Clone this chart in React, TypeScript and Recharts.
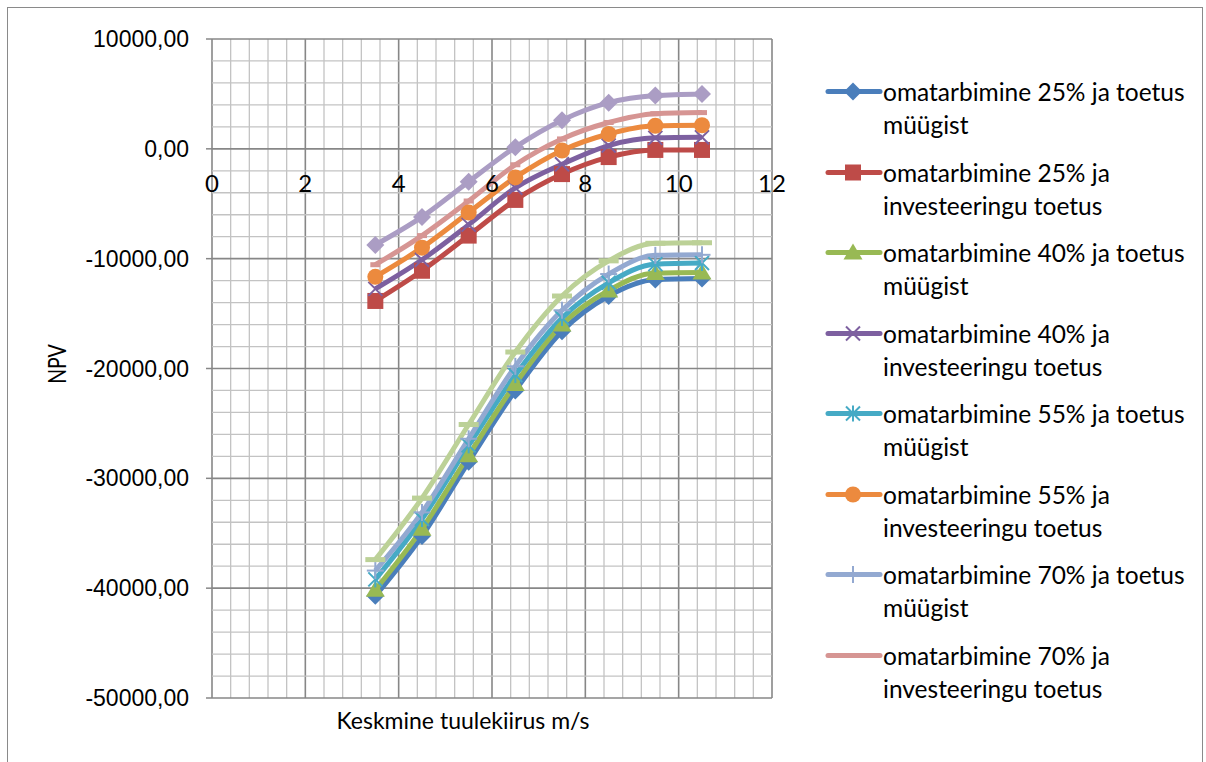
import React from 'react';
import { LineChart, Line, XAxis, YAxis, ReferenceLine } from 'recharts';

// wind speed (m/s) at which each scenario was evaluated
const windSpeed = [3.5, 4.5, 5.5, 6.5, 7.5, 8.5, 9.5, 10.5];

// NPV per scenario
const own25Sale = [-40700, -35250, -28500, -22000, -16600, -13400, -11900, -11800];
const own25Invest = [-13850, -11100, -7900, -4650, -2300, -750, -100, -100];
const own40Sale = [-40150, -34600, -27900, -21400, -16000, -12900, -11300, -11250];
const own40Invest = [-12750, -10100, -6900, -3550, -1400, 300, 1000, 1050];
const own55Sale = [-39200, -33700, -27000, -20600, -15400, -12200, -10500, -10400];
const own55Invest = [-11650, -9000, -5800, -2600, -150, 1350, 2100, 2150];
const own70Sale = [-38400, -33100, -26400, -19800, -14700, -11400, -9700, -9650];
const own70Invest = [-10550, -7900, -4750, -1450, 900, 2400, 3200, 3300];
const own85Sale = [-37400, -31800, -25100, -18500, -13400, -10200, -8600, -8550];
const own85Invest = [-8750, -6200, -3000, 150, 2600, 4200, 4850, 5000];

const xTicks = [0, 2, 4, 6, 8, 10, 12];
const yTicks = [-50000, -40000, -30000, -20000, -10000, 0, 10000];

type Shape = 'diamond' | 'square' | 'triangle' | 'x' | 'star' | 'circle' | 'plus' | 'dash' | 'longdash';

const series: { key: string; name: string; values: number[]; color: string; shape: Shape; legend: boolean }[] = [
  { key: 's1', name: 'omatarbimine 25% ja toetus müügist', values: own25Sale, color: '#4a7ebb', shape: 'diamond', legend: true },
  { key: 's2', name: 'omatarbimine 25% ja investeeringu toetus', values: own25Invest, color: '#be4b48', shape: 'square', legend: true },
  { key: 's3', name: 'omatarbimine 40% ja toetus müügist', values: own40Sale, color: '#98b954', shape: 'triangle', legend: true },
  { key: 's4', name: 'omatarbimine 40% ja investeeringu toetus', values: own40Invest, color: '#7d60a0', shape: 'x', legend: true },
  { key: 's5', name: 'omatarbimine 55% ja toetus müügist', values: own55Sale, color: '#46aac5', shape: 'star', legend: true },
  { key: 's6', name: 'omatarbimine 55% ja investeeringu toetus', values: own55Invest, color: '#ec8a3e', shape: 'circle', legend: true },
  { key: 's7', name: 'omatarbimine 70% ja toetus müügist', values: own70Sale, color: '#93a9d1', shape: 'plus', legend: true },
  { key: 's8', name: 'omatarbimine 70% ja investeeringu toetus', values: own70Invest, color: '#d69593', shape: 'dash', legend: true },
  { key: 's9', name: 'omatarbimine 85% ja toetus müügist', values: own85Sale, color: '#bcd197', shape: 'longdash', legend: false },
  { key: 's10', name: 'omatarbimine 85% ja investeeringu toetus', values: own85Invest, color: '#ab9dc4', shape: 'diamond', legend: false },
];

const data = windSpeed.map((x, i) => {
  const row: Record<string, number> = { x };
  series.forEach((s) => (row[s.key] = s.values[i]));
  return row;
});

// minor grid every 0.4 m/s and 2000 NPV
const xMinor = Array.from({ length: 31 }, (_, i) => +(i * 0.4).toFixed(1));
const yMinor = Array.from({ length: 31 }, (_, i) => -50000 + i * 2000);

const W = 1206;
const H = 762;
const M = { top: 39, right: 434, bottom: 63, left: 0 };
const X_AXIS_H = 1;
const Y_MIN = -50000;
const Y_MAX = 10000;
const plotH = H - M.top - M.bottom - X_AXIS_H;
const zeroY = M.top + (plotH * Y_MAX) / (Y_MAX - Y_MIN);

const MAJOR = '#878787';
const MINOR = '#c3c3c3';
const LABEL_FONT = 'Lato, "Open Sans", sans-serif';

function Marker({ shape, color, cx, cy }: { shape: Shape; color: string; cx: number; cy: number }) {
  switch (shape) {
    case 'diamond':
      return <polygon points={`${cx},${cy - 9} ${cx + 9},${cy} ${cx},${cy + 9} ${cx - 9},${cy}`} fill={color} />;
    case 'square':
      return <rect x={cx - 8} y={cy - 8} width={16} height={16} fill={color} />;
    case 'triangle':
      return <polygon points={`${cx},${cy - 9} ${cx + 9.5},${cy + 7} ${cx - 9.5},${cy + 7}`} fill={color} />;
    case 'x':
      return (
        <g stroke={color} strokeWidth={2}>
          <line x1={cx - 7} y1={cy - 7} x2={cx + 7} y2={cy + 7} />
          <line x1={cx - 7} y1={cy + 7} x2={cx + 7} y2={cy - 7} />
        </g>
      );
    case 'star':
      return (
        <g stroke={color} strokeWidth={2}>
          <line x1={cx - 7} y1={cy - 7} x2={cx + 7} y2={cy + 7} />
          <line x1={cx - 7} y1={cy + 7} x2={cx + 7} y2={cy - 7} />
          <line x1={cx} y1={cy - 8} x2={cx} y2={cy + 8} />
        </g>
      );
    case 'circle':
      return <circle cx={cx} cy={cy} r={8} fill={color} />;
    case 'plus':
      return (
        <g stroke={color} strokeWidth={2}>
          <line x1={cx} y1={cy - 8.5} x2={cx} y2={cy + 8.5} />
          <line x1={cx - 8.5} y1={cy} x2={cx + 8.5} y2={cy} />
        </g>
      );
    case 'dash':
      return <rect x={cx - 5} y={cy - 2.5} width={10} height={5} fill={color} />;
    case 'longdash':
      return <rect x={cx - 10} y={cy - 2.5} width={20} height={5} fill={color} />;
  }
  return null;
}

// x labels sit just under the zero line, where the horizontal axis crosses
const XTick = ({ x, payload }: any) => (
  <text x={x} y={zeroY + 43} textAnchor="middle" fontFamily={LABEL_FONT} fontSize={24} fill="#000">
    {payload.value}
  </text>
);

const fmt = (v: number) => v.toFixed(2).replace('.', ',');

function LegendBox() {
  const entries = series.filter((s) => s.legend);
  return (
    <div style={{ position: 'absolute', left: 825, top: 75, width: 381, fontFamily: LABEL_FONT, fontSize: 24.5, color: '#000' }}>
      {entries.map((s) => {
        const words = s.name.split(' ');
        const first = s.name.includes('investeeringu') ? words.slice(0, 3).join(' ') : words.slice(0, 4).join(' ');
        const second = s.name.slice(first.length + 1);
        return (
          <div key={s.key} style={{ display: 'flex', height: 80.5 }}>
            <svg width={58} height={33} style={{ flex: 'none' }}>
              <line x1={3} y1={16.5} x2={55} y2={16.5} stroke={s.color} strokeWidth={5} strokeLinecap="round" />
              <Marker shape={s.shape} color={s.color} cx={28} cy={16.5} />
            </svg>
            <div style={{ lineHeight: '33px', whiteSpace: 'nowrap' }}>
              <div>{first}</div>
              <div>{second}</div>
            </div>
          </div>
        );
      })}
    </div>
  );
}

export default function App() {
  return (
    <div style={{ position: 'absolute', left: 0, top: 0, width: W, height: H, overflow: 'hidden', background: '#fff' }}>
      <div style={{ position: 'absolute', left: 7, top: 7, width: 1194, height: 820, border: '1.5px solid #8a8a8a' }} />
      <div style={{ position: 'absolute', left: 0, top: 0 }}>
        <LineChart width={W} height={H} data={data} margin={M}>
          <XAxis
            type="number"
            dataKey="x"
            domain={[0, 12]}
            ticks={xTicks}
            height={X_AXIS_H}
            axisLine={false}
            tickLine={false}
            tick={(p: any) => <XTick {...p} />}
            interval={0}
          />
          <YAxis
            type="number"
            domain={[Y_MIN, Y_MAX]}
            ticks={yTicks}
            width={212}
            axisLine={false}
            tickLine={{ stroke: MAJOR, strokeWidth: 1.5 }}
            tickSize={6}
            tickMargin={17}
            tickFormatter={fmt}
            tick={{ fontFamily: '"Liberation Sans", Arial, sans-serif', fontSize: 23, fill: '#000' }}
            interval={0}
          />
          {xMinor.map((v) => (
            <ReferenceLine key={'vx' + v} x={v} stroke={v % 2 === 0 ? MAJOR : MINOR} strokeWidth={v % 2 === 0 ? 1.6 : 1.3} />
          ))}
          {yMinor.map((v) => (
            <ReferenceLine key={'hy' + v} y={v} stroke={v % 10000 === 0 ? MAJOR : MINOR} strokeWidth={v % 10000 === 0 ? 1.6 : 1.3} />
          ))}
          {series.map((s) => (
            <Line
              key={s.key}
              type="monotone"
              dataKey={s.key}
              name={s.name}
              stroke={s.color}
              strokeWidth={5}
              isAnimationActive={false}
              activeDot={false}
              dot={(p: any) => <Marker key={s.key + p.index} shape={s.shape} color={s.color} cx={p.cx} cy={p.cy} />}
            />
          ))}
        </LineChart>
      </div>
      <div
        style={{
          position: 'absolute',
          left: 56,
          top: 364,
          transform: 'translate(-50%, -50%) rotate(-90deg) scaleX(0.78)',
          fontFamily: LABEL_FONT,
          fontSize: 25,
          whiteSpace: 'nowrap',
        }}
      >
        NPV
      </div>
      <div
        style={{
          position: 'absolute',
          left: 463,
          top: 720,
          transform: 'translate(-50%, -50%)',
          fontFamily: LABEL_FONT,
          fontSize: 23,
          whiteSpace: 'nowrap',
        }}
      >
        Keskmine tuulekiirus m/s
      </div>
      <LegendBox />
    </div>
  );
}
